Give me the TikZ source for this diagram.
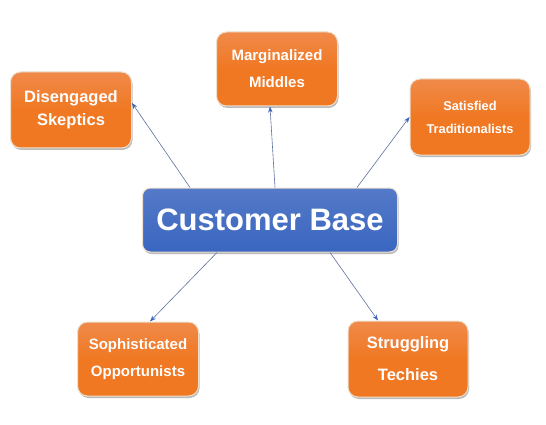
\documentclass[tikz,border=0pt]{standalone}
\usepackage{fontspec}
\setmainfont{Liberation Sans}
\usetikzlibrary{arrows.meta,shadows}

\definecolor{segorange}{RGB}{240,120,34}
\definecolor{segorangetop}{RGB}{240,138,74}
\definecolor{baseblue}{RGB}{58,102,192}
\definecolor{baseblueto}{RGB}{84,122,200}
\definecolor{rimcolor}{RGB}{238,224,204}
\definecolor{linkcolor}{RGB}{96,112,158}

\begin{document}
\begin{tikzpicture}[x=1pt,y=-1pt,
    segment/.style={rectangle, rounded corners=10pt, draw=rimcolor, line width=1pt,
      top color=segorangetop, bottom color=segorange, middle color=segorange,
      text=white, align=center, inner sep=0pt,
      drop shadow={shadow xshift=1pt, shadow yshift=-2pt, fill=black!45, opacity=.6}},
    hub/.style={rectangle, rounded corners=8pt, draw=rimcolor, line width=1pt,
      top color=baseblueto, bottom color=baseblue,
      text=white, inner sep=0pt, minimum width=255pt, minimum height=64pt,
      drop shadow={shadow xshift=1pt, shadow yshift=-2pt, fill=black!45, opacity=.6}},
    link/.style={draw=linkcolor, line width=0.6pt, -{Stealth[length=6pt,width=4.5pt,color=baseblue]}}]
  \useasboundingbox (0,0) rectangle (546,425);

  % hub
  \node[hub, font=\bfseries\fontsize{31}{32}\selectfont] (base) at (270,220) {Customer Base};

  % segments
  \node[segment, minimum width=121pt, minimum height=76pt,
        font=\bfseries\fontsize{16.5}{23}\selectfont] (skeptics) at (71,110) {Disengaged\\Skeptics};
  \node[segment, minimum width=121pt, minimum height=74pt,
        font=\bfseries\fontsize{15}{27}\selectfont] (middles) at (277,69) {Marginalized\\Middles};
  \node[segment, minimum width=120pt, minimum height=76pt,
        font=\bfseries\fontsize{12.8}{23}\selectfont] (trads) at (470,117) {Satisfied\\Traditionalists};
  \node[segment, minimum width=121pt, minimum height=74pt,
        font=\bfseries\fontsize{15}{27}\selectfont] (opps) at (138,359) {Sophisticated\\Opportunists};
  \node[segment, minimum width=120pt, minimum height=76pt,
        font=\bfseries\fontsize{16.5}{32}\selectfont] (techies) at (408,359) {Struggling\\Techies};

  % links
  \draw[link] ([xshift=-80pt]base.north) -- ([yshift=7pt]skeptics.east);
  \draw[link] ([xshift=5pt]base.north) -- ([xshift=-7pt]middles.south);
  \draw[link] ([xshift=87pt]base.north) -- (trads.west);
  \draw[link] ([xshift=-53pt]base.south) -- ([xshift=12pt]opps.north);
  \draw[link] ([xshift=60pt]base.south) -- ([xshift=-30pt]techies.north);
\end{tikzpicture}
\end{document}
